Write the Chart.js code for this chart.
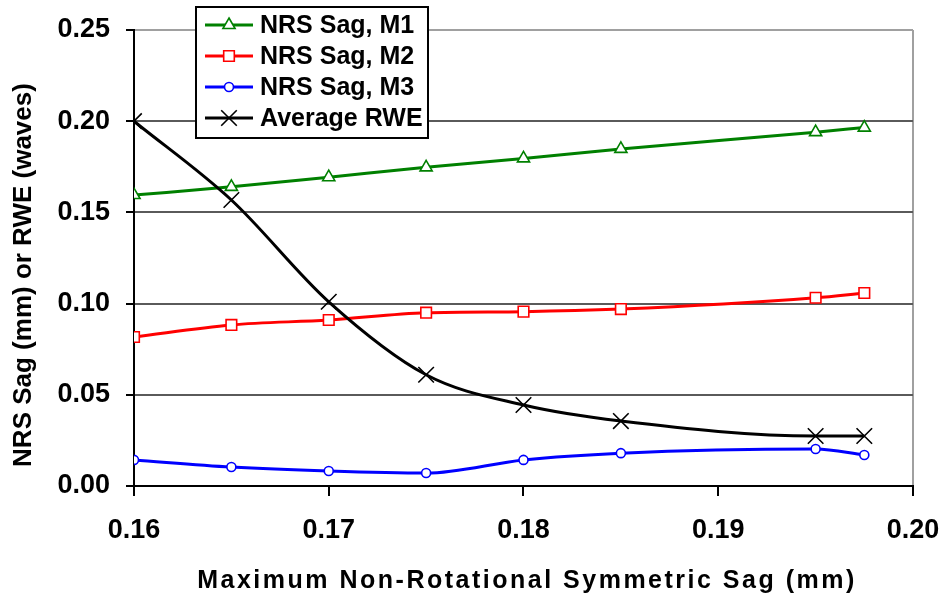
<!DOCTYPE html>
<html>
<head>
<meta charset="utf-8">
<script src="https://cdn.jsdelivr.net/npm/chart.js@4/dist/chart.umd.min.js"></script>
<style>
  html, body { margin: 0; padding: 0; background: #fff; }
  #wrap { width: 945px; height: 599px; position: relative; }
</style>
</head>
<body>
<div id="wrap"><canvas id="c" width="945" height="599"></canvas></div>
<script>
// Maximum non-rotational symmetric sag (mm) for each design point
const sagX   = [0.16, 0.165, 0.17, 0.175, 0.18, 0.185, 0.195, 0.1975];
// NRS sag per mirror (mm) and the average RWE (waves)
const sagM1  = [0.1595, 0.164, 0.1693, 0.1747, 0.1796, 0.1848, 0.194, 0.1965];
const sagM2  = [0.0817, 0.0883, 0.091, 0.095, 0.0956, 0.097, 0.1032, 0.1058];
const sagM3  = [0.0143, 0.0104, 0.0082, 0.0071, 0.0143, 0.018, 0.0203, 0.017];
const avgRWE = [0.200, 0.1568, 0.101, 0.061, 0.0444, 0.0356, 0.0274, 0.0274];
const seriesNames = ['NRS Sag, M1', 'NRS Sag, M2', 'NRS Sag, M3', 'Average RWE'];
const xTickValues = [0.16, 0.17, 0.18, 0.19, 0.20];
const yTickValues = [0.00, 0.05, 0.10, 0.15, 0.20, 0.25];
const xTitle = 'Maximum Non-Rotational Symmetric Sag (mm)';
const yTitle = 'NRS Sag (mm) or RWE (waves)';

const FONT = '"Liberation Sans", Arial, sans-serif';

const toPoints = ys => sagX.map((x, i) => ({ x: x, y: ys[i] }));

function series(label, ys, color, style, radius, order) {
  return {
    label: label,
    data: toPoints(ys),
    borderColor: color,
    borderWidth: 3,
    pointStyle: style,
    pointRadius: radius,
    pointBorderColor: color,
    pointBackgroundColor: '#ffffff',
    pointBorderWidth: 1.6,
    cubicInterpolationMode: 'monotone',
    fill: false,
    order: order
  };
}

// Boxed legend inside the plot plus both axis titles
const overlay = {
  id: 'overlay',
  afterDraw(chart) {
    const ctx = chart.ctx;
    ctx.save();
    ctx.fillStyle = '#ffffff';
    ctx.fillRect(196, 7, 232, 131);
    ctx.strokeStyle = '#000000';
    ctx.lineWidth = 2;
    ctx.strokeRect(196, 7, 232, 131);
    chart.data.datasets.forEach((ds, i) => {
      const y = 25 + i * 31;
      ctx.strokeStyle = ds.borderColor;
      ctx.lineWidth = 3;
      ctx.beginPath();
      ctx.moveTo(205, y);
      ctx.lineTo(253, y);
      ctx.stroke();
      ctx.fillStyle = '#ffffff';
      ctx.strokeStyle = ds.pointBorderColor;
      ctx.lineWidth = ds.pointBorderWidth;
      Chart.helpers.drawPoint(ctx, {
        pointStyle: ds.pointStyle, radius: ds.pointRadius,
        borderWidth: ds.pointBorderWidth, rotation: 0
      }, 229, y);
      ctx.fillStyle = '#000000';
      ctx.font = 'bold 25px ' + FONT;
      ctx.textAlign = 'left';
      ctx.textBaseline = 'middle';
      ctx.fillText(ds.label, 260, y + 1);
    });

    // x axis title
    ctx.fillStyle = '#000000';
    ctx.font = 'bold 25px ' + FONT;
    ctx.letterSpacing = '2.5px';
    ctx.textAlign = 'center';
    ctx.textBaseline = 'alphabetic';
    ctx.fillText(xTitle, 527, 588);

    // y axis title
    ctx.letterSpacing = '0px';
    ctx.font = 'bold 26px ' + FONT;
    ctx.translate(31, 275);
    ctx.rotate(-Math.PI / 2);
    ctx.fillText(yTitle, 0, 0);
    ctx.restore();
  }
};

new Chart(document.getElementById('c'), {
  type: 'line',
  data: {
    datasets: [
      series(seriesNames[0], sagM1, '#008000', 'triangle', 7, 3),
      series(seriesNames[1], sagM2, '#ff0000', 'rect', 7.5, 2),
      series(seriesNames[2], sagM3, '#0000ff', 'circle', 4.5, 1),
      series(seriesNames[3], avgRWE, '#000000', 'crossRot', 11, 0)
    ]
  },
  options: {
    responsive: false,
    animation: false,
    devicePixelRatio: 1,
    layout: { autoPadding: false, padding: { left: 0, right: 32, top: 30, bottom: 0 } },
    plugins: { legend: { display: false }, tooltip: { enabled: false } },
    scales: {
      x: {
        type: 'linear',
        min: 0.16,
        max: 0.20,
        afterBuildTicks: s => { s.ticks = xTickValues.map(v => ({ value: v })); },
        afterFit: s => { s.height = 113; s.paddingLeft = 0; s.paddingRight = 0; },
        ticks: {
          color: '#000',
          padding: 18,
          font: { family: FONT, size: 27, weight: 'bold' },
          callback: v => Number(v).toFixed(2)
        },
        grid: {
          lineWidth: 2,
          tickLength: 10,
          tickColor: '#000',
          color: c => (c.index === xTickValues.length - 1 ? '#a0a0a0' : 'rgba(0,0,0,0)')
        },
        border: { display: true, color: '#000', width: 2 },
        title: { display: false }
      },
      y: {
        type: 'linear',
        min: 0,
        max: 0.25,
        afterBuildTicks: s => { s.ticks = yTickValues.map(v => ({ value: v })); },
        afterFit: s => { s.width = 134; s.paddingTop = 0; s.paddingBottom = 0; },
        ticks: {
          color: '#000',
          padding: 16,
          font: { family: FONT, size: 27, weight: 'bold' },
          callback: v => Number(v).toFixed(2)
        },
        grid: {
          lineWidth: 2,
          tickLength: 8,
          tickColor: '#000',
          color: c => {
            const v = c.tick ? c.tick.value : 0;
            if (v > 0.249) return '#a0a0a0';
            if (v < 0.001) return 'rgba(0,0,0,0)';
            return '#5a5a5a';
          }
        },
        border: { display: true, color: '#000', width: 2 },
        title: { display: false }
      }
    }
  },
  plugins: [overlay]
});
</script>
</body>
</html>
